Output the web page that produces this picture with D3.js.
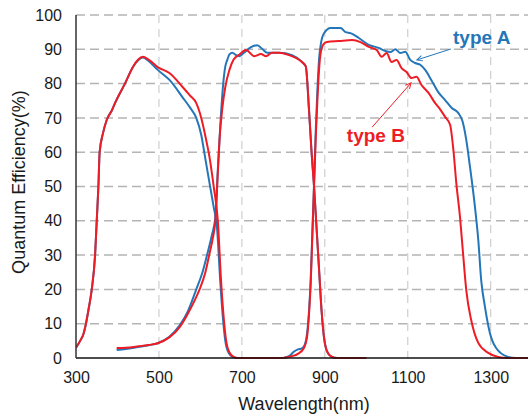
<!DOCTYPE html>
<html>
<head>
<meta charset="utf-8">
<script src="https://cdn.jsdelivr.net/npm/d3@7"></script>
<style>
  body { margin: 0; background: #fff; }
  svg { display: block; font-family: Arial, "Liberation Sans", sans-serif; }
</style>
</head>
<body>
<div id="chart"></div>
<script>
// wavelength (nm) / quantum efficiency (%) pairs
const typeA_band1 = [
    [300, 3], [310, 5], [318, 7], [324, 10], [330, 14], [338, 20], [346, 30], [350, 40],
    [354, 50], [357, 60], [365, 65.5], [374, 69.4], [387, 72.3], [394, 74.3], [418, 80],
    [438, 85], [450, 86.8], [461, 87.6], [475, 86.6], [497, 84], [526, 81], [557, 76],
    [575, 73], [590, 70], [602, 65], [612, 58], [622, 51], [632, 44], [640, 38], [648, 22],
    [654, 12], [660, 5], [668, 1.5], [678, 0.3], [690, 0], [800, 0]
];
const typeB_band1 = [
    [300, 3], [310, 5], [318, 7], [324, 10], [330, 14], [338, 20], [346, 30], [350, 40],
    [354, 50], [357, 60], [365, 65.5], [374, 69.4], [387, 72.3], [394, 74.3], [418, 80],
    [438, 85], [450, 87], [461, 87.8], [475, 87], [497, 84.8], [526, 83], [557, 79],
    [575, 76.5], [590, 74.3], [602, 70], [614, 63.5], [622, 58.5], [632, 50], [642, 40],
    [650, 22], [656, 12], [662, 5], [670, 1.6], [680, 0.3], [690, 0], [800, 0]
];
const typeA_band2 = [
    [398, 2.3], [420, 2.6], [450, 3.2], [475, 3.7], [497, 4.3], [525, 6.2], [550, 9.5],
    [569, 13.4], [590, 20], [605, 25], [618, 31], [628, 36], [636, 41], [642, 55], [648, 68],
    [655, 80], [660, 85], [665, 87], [670, 88.5], [677, 89], [686, 88.3], [694, 88],
    [705, 89], [720, 90.5], [737, 91.2], [750, 90], [761, 89], [790, 89], [821, 88.3],
    [845, 86.3], [854, 85], [862, 72], [868, 60], [874, 50], [880, 38], [886, 26], [892, 14],
    [898, 6], [905, 2], [915, 0.5], [930, 0], [1000, 0]
];
const typeB_band2 = [
    [398, 2.9], [420, 3], [450, 3.4], [475, 3.8], [497, 4.3], [525, 6], [550, 9], [570, 13],
    [585, 16.5], [598, 20], [612, 25], [622, 30.5], [630, 35], [636, 40], [642, 54],
    [646, 63.5], [653, 73], [660, 79], [670, 84], [680, 87], [694, 88.5], [710, 89.8],
    [730, 88], [746, 88.6], [758, 88], [773, 89], [790, 89], [814, 88.3], [830, 87.5],
    [845, 86.3], [854, 85], [862, 72], [868, 60], [874, 50], [880, 38], [886, 26], [892, 14],
    [898, 6], [905, 2], [915, 0.5], [930, 0], [1000, 0]
];
const typeA_band3 = [
    [800, 0], [815, 0.6], [825, 1.8], [835, 2.5], [845, 2.8], [852, 4], [857, 7], [862, 14],
    [866, 23], [870, 37], [874, 51], [878, 66], [882, 78], [886, 87], [891, 92], [898, 94.7],
    [914, 96.2], [938, 96.2], [950, 95], [962, 94.7], [982, 93.3], [1006, 91.3],
    [1030, 90.4], [1046, 89.5], [1058, 89.2], [1070, 90], [1082, 88.9], [1094, 89.3],
    [1106, 86.9], [1118, 86], [1130, 85.5], [1142, 84], [1157, 81], [1173, 77.6],
    [1190, 75.2], [1206, 72.9], [1222, 71.4], [1232, 69], [1241, 63.6], [1250, 55.7],
    [1262, 44], [1270, 34.4], [1277, 22.7], [1286, 15], [1298, 7.3], [1313, 2.9],
    [1342, 0.3], [1360, 0], [1400, 0]
];
const typeB_band3 = [
    [800, 0], [820, 0.5], [835, 1.2], [850, 3], [857, 6], [862, 13], [866, 22], [870, 36],
    [874, 50], [878, 64], [882, 75], [886, 84], [890, 89], [897, 91.5], [905, 92.1],
    [934, 92.4], [966, 92.7], [986, 92.1], [1006, 90.7], [1025, 89.8], [1037, 87.8],
    [1049, 88.9], [1061, 86.3], [1073, 86.9], [1085, 84.5], [1097, 83.4], [1109, 81.6],
    [1121, 82], [1133, 79.6], [1150, 77.3], [1166, 74.3], [1178, 72.5], [1190, 70.3],
    [1202, 68], [1210, 60.6], [1217, 51], [1226, 41], [1234, 29.4], [1241, 19.8],
    [1253, 11], [1270, 4.4], [1294, 1.5], [1318, 0.3], [1340, 0], [1400, 0]
];

const xTicks = [300, 500, 700, 900, 1100, 1300];
const yTicks = [0, 10, 20, 30, 40, 50, 60, 70, 80, 90, 100];

const width = 528;
const height = 416;
const margin = { top: 15, left: 76, bottom: 58 };

const x = d3.scaleLinear().domain([300, 1400]).range([margin.left, 532.2]);
const y = d3.scaleLinear().domain([0, 100]).range([height - margin.bottom, margin.top]);

const blue = "#2476b8";
const red = "#ee1c25";

const svg = d3.select("#chart")
    .append("svg")
    .attr("width", width)
    .attr("height", height);

svg.append("defs").append("clipPath")
    .attr("id", "plot-clip")
    .append("rect")
    .attr("x", margin.left)
    .attr("y", 0)
    .attr("width", width - margin.left)
    .attr("height", height - margin.bottom + 2);

// grid
svg.append("g")
    .selectAll("line")
    .data(yTicks.filter(d => d > 0))
    .enter()
    .append("line")
    .attr("x1", margin.left)
    .attr("x2", width)
    .attr("y1", d => y(d))
    .attr("y2", d => y(d))
    .attr("stroke", "#b4b4b4")
    .attr("stroke-width", 1.5)
    .attr("stroke-dasharray", "9,5");

svg.append("g")
    .selectAll("line")
    .data(xTicks.filter(d => d > 300))
    .enter()
    .append("line")
    .attr("x1", d => x(d))
    .attr("x2", d => x(d))
    .attr("y1", y(100))
    .attr("y2", y(0))
    .attr("stroke", "#c4c4c4")
    .attr("stroke-width", 1)
    .attr("stroke-dasharray", "8,6");

// axes
const xAxis = svg.append("g")
    .attr("transform", `translate(0, ${y(0)})`)
    .call(d3.axisBottom(x).tickValues(xTicks).tickFormat(d3.format("d")).tickSize(0).tickPadding(14));
xAxis.select(".domain").remove();
xAxis.selectAll("text").style("font-size", "16px").attr("fill", "#1a1a1a");

const yAxis = svg.append("g")
    .attr("transform", `translate(${margin.left}, 0)`)
    .call(d3.axisLeft(y).tickValues(yTicks).tickFormat(d3.format("d")).tickSize(0).tickPadding(14));
yAxis.select(".domain").remove();
yAxis.selectAll("text").style("font-size", "16px").attr("fill", "#1a1a1a");

// curves
const line = d3.line()
    .x(d => x(d[0]))
    .y(d => y(d[1]))
    .curve(d3.curveMonotoneX);

const series = [
    { data: typeA_band1, color: blue },
    { data: typeA_band2, color: blue },
    { data: typeA_band3, color: blue },
    { data: typeB_band1, color: red },
    { data: typeB_band2, color: red },
    { data: typeB_band3, color: red }
];

svg.append("g")
    .attr("clip-path", "url(#plot-clip)")
    .selectAll("path")
    .data(series)
    .enter()
    .append("path")
    .attr("d", d => line(d.data))
    .attr("fill", "none")
    .attr("stroke", d => d.color)
    .attr("stroke-width", 2)
    .attr("stroke-linejoin", "round");

svg.append("line")
    .attr("x1", margin.left).attr("x2", width)
    .attr("y1", y(0)).attr("y2", y(0))
    .attr("stroke", "#111").attr("stroke-width", 1.5);

svg.append("line")
    .attr("x1", margin.left).attr("x2", margin.left)
    .attr("y1", y(100)).attr("y2", y(0))
    .attr("stroke", "#333").attr("stroke-width", 1.5);

// annotations
const defs = svg.select("defs");
[["arrowA", blue], ["arrowB", red]].forEach(([id, c]) => {
    defs.append("marker")
        .attr("id", id)
        .attr("viewBox", "0 0 10 10")
        .attr("refX", 9)
        .attr("refY", 5)
        .attr("markerWidth", 7)
        .attr("markerHeight", 7)
        .attr("orient", "auto")
        .append("path")
        .attr("d", "M1,1 L9,5 L1,9")
        .attr("fill", "none")
        .attr("stroke", c)
        .attr("stroke-width", 1.4);
});

const notes = [
    { label: "type A", color: blue, text: [1209, 91.5], from: [1204, 90.1], to: [1122, 86.9], marker: "arrowA" },
    { label: "type B", color: red, text: [953, 63], from: [1014, 67.3], to: [1108, 80.2], marker: "arrowB" }
];

notes.forEach(n => {
    svg.append("line")
        .attr("x1", x(n.from[0])).attr("y1", y(n.from[1]))
        .attr("x2", x(n.to[0])).attr("y2", y(n.to[1]))
        .attr("stroke", n.color)
        .attr("stroke-width", 1)
        .attr("marker-end", `url(#${n.marker})`);
    svg.append("text")
        .attr("x", x(n.text[0]))
        .attr("y", y(n.text[1]))
        .attr("fill", n.color)
        .style("font-size", "19px")
        .style("font-weight", "bold")
        .text(n.label);
});

// axis titles
svg.append("text")
    .attr("x", 304)
    .attr("y", 410)
    .attr("text-anchor", "middle")
    .attr("fill", "#1a1a1a")
    .style("font-size", "18px")
    .text("Wavelength(nm)");

svg.append("text")
    .attr("transform", "translate(25, 182) rotate(-90)")
    .attr("text-anchor", "middle")
    .attr("fill", "#1a1a1a")
    .style("font-size", "18px")
    .text("Quantum Efficiency(%)");
</script>
</body>
</html>
